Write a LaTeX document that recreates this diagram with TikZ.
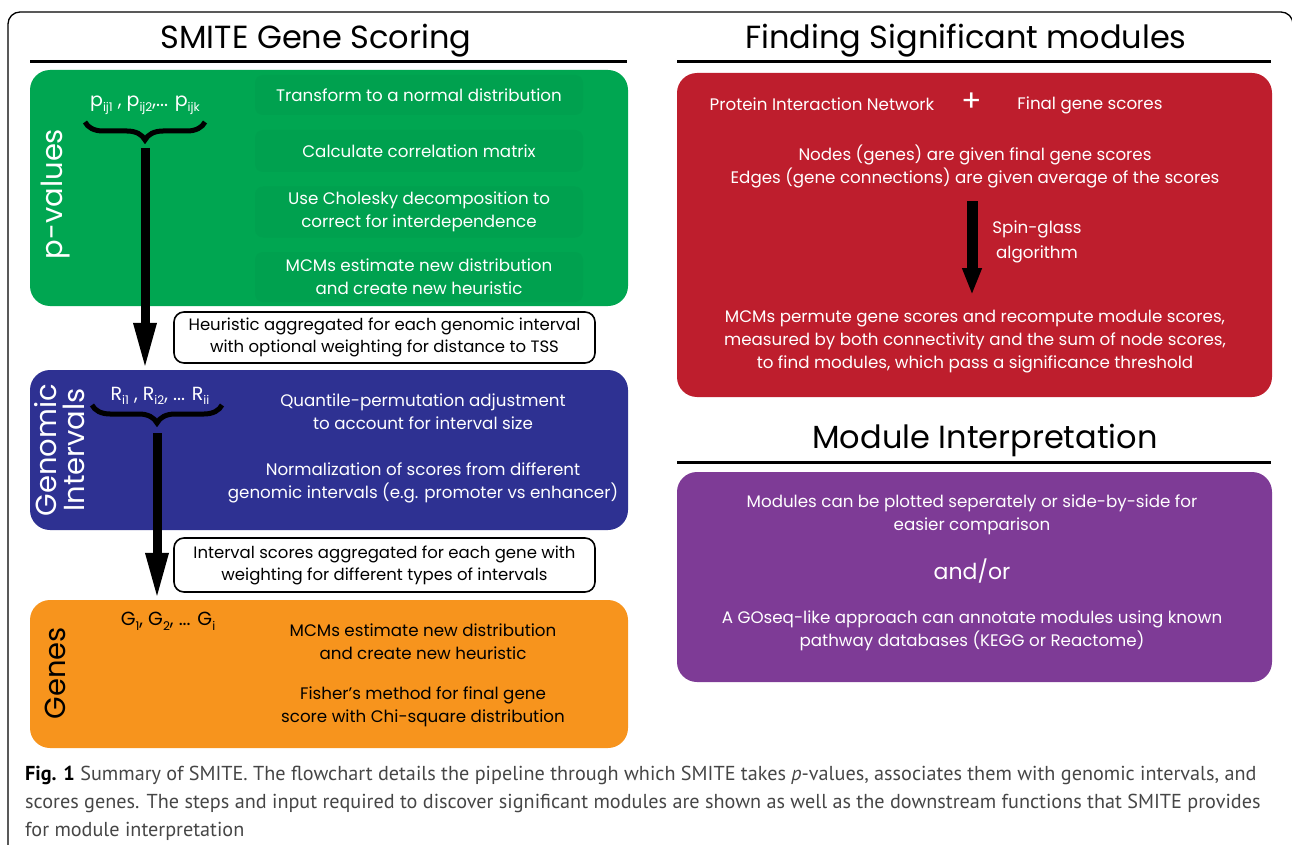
\documentclass[tikz,border=0pt]{standalone}
\usepackage{fontspec}
\setmainfont{Poppins}
\newfontfamily\capfont{PT Sans}
\usetikzlibrary{positioning,arrows.meta,decorations.pathreplacing}
\definecolor{smgreen}{RGB}{0,166,81}
\definecolor{smblue}{RGB}{46,49,146}
\definecolor{smorange}{RGB}{247,148,29}
\definecolor{smred}{RGB}{190,30,45}
\definecolor{smpurple}{RGB}{126,59,150}
\definecolor{capgray}{RGB}{70,70,70}
\newcommand\sbs[1]{\raisebox{-0.45ex}{\fontsize{12}{12}\selectfont #1}}
\tikzset{
  panel/.style={ rounded corners=20pt, inner sep=0pt }
}
\tikzset{
  subbox/.style={ rounded corners=8pt, fill=smgreen!97!black, text=white, align=center,
    minimum width=328pt, inner sep=2pt, font=\fontsize{16.7}{23}\selectfont }
}
\tikzset{
  wtxt/.style={ text=white, align=center, font=\fontsize{16.7}{23}\selectfont }
}
\tikzset{
  btxt/.style={ text=black, align=center, font=\fontsize{16.7}{23}\selectfont }
}
\tikzset{
  stepnote/.style={ draw, line width=1.6pt, rounded corners=10pt, fill=white, align=center,
    minimum width=421pt, inner sep=2pt, font=\fontsize{16.5}{22}\selectfont }
}
\tikzset{
  sidelbl/.style={ rotate=90, align=center, font=\fontsize{29}{28}\selectfont }
}
\tikzset{
  heading/.style={ font=\fontsize{32}{32}\selectfont }
}
\tikzset{
  bigarrow/.style={ line width=9pt, -{Triangle[length=47pt,width=21pt]} }
}
\tikzset{
  curly/.style={ decorate, decoration={brace, mirror, amplitude=18pt}, line width=5pt }
}

\begin{document}
\begin{tikzpicture}[x=1pt, y=-1pt]
  \useasboundingbox (0,0) rectangle (1292,845);
  % outer frame
  \draw[line width=1.3pt, rounded corners=12pt] (8,850) -- (8,12) -- (1293,12) -- (1293,850);

  % ---- SMITE gene scoring
  \node[heading] (lhead) at (316,41) {SMITE Gene Scoring};
  \draw[line width=3pt] (30,62) -- (627,62);

  \node[panel, fill=smgreen, minimum width=598pt, minimum height=236pt] (pval) at (329,188) {};
  \node[panel, fill=smblue, minimum width=598pt, minimum height=160pt] (genint) at (329,450) {};
  \node[panel, fill=smorange, minimum width=598pt, minimum height=148pt] (genes) at (329,674) {};

  \node[sidelbl, text=white] (pvlbl) at (56,194) {p-values};
  \node[sidelbl, text=white] (gilbl) at (60,450) {Genomic\\Intervals};
  \node[sidelbl, text=black] (gnlbl) at (55,673) {Genes};

  \node[subbox, minimum height=40pt] (s1) at (419,95) {Transform to a normal distribution};
  \node[subbox, minimum height=42pt] (s2) at (419,151) {Calculate correlation matrix};
  \node[subbox, minimum height=51pt] (s3) at (419,212) {Use Cholesky decomposition to\\correct for interdependence};
  \node[subbox, minimum height=50pt] (s4) at (419,277) {MCMs estimate new distribution\\and create new heuristic};

  \node[wtxt, font=\fontsize{19}{23}\selectfont] (plist) at (145,105) {p\sbs{ij1} , p\sbs{ij2},... p\sbs{ijk}};
  \coordinate (pbl) at (85,122);
  \coordinate (pbr) at (205,122);
  \coordinate (ptip) at (145,148);
  \draw[curly] (pbl) -- (pbr);
  \draw[bigarrow] (ptip) -- (ptip |- genint.north);

  \node[stepnote, minimum height=51pt] (heur) at (384.5,337.5) {Heuristic aggregated for each genomic interval\\with optional weighting for distance to TSS};

  \node[wtxt] (q1) at (423,412) {Quantile-permutation adjustment\\to account for interval size};
  \node[wtxt] (q2) at (423,483) {Normalization of scores from different\\genomic intervals (e.g. promoter vs enhancer)};
  \node[wtxt, font=\fontsize{19}{23}\selectfont] (rlist) at (160,396) {R\sbs{i1} , R\sbs{i2}, ... R\sbs{ii}};
  \coordinate (rbl) at (92,405);
  \coordinate (rbr) at (222,405);
  \coordinate (rtip) at (157,433);
  \draw[curly] (rbl) -- (rbr);
  \draw[bigarrow] (rtip) -- (rtip |- genes.north);

  \node[stepnote, minimum height=54pt] (ivagg) at (384.5,565) {Interval scores aggregated for each gene with\\weighting for different types of intervals};

  \node[btxt, font=\fontsize{19}{23}\selectfont] (glist) at (168,621) {G\sbs{1}, G\sbs{2}, ... G\sbs{i}};
  \node[btxt] (g1) at (423,642) {MCMs estimate new distribution\\and create new heuristic};
  \node[btxt] (g2) at (423,707) {Fisher’s method for final gene\\score with Chi-square distribution};

  % ---- finding significant modules
  \node[heading] (rhead) at (966,41) {Finding Significant modules};
  \draw[line width=3pt] (677,62) -- (1271,62);
  \node[panel, fill=smred, minimum width=595pt, minimum height=324pt] (sigmod) at (974.5,235) {};

  \node[wtxt] (pin) at (822,104) {Protein Interaction Network};
  \node[wtxt, font=\fontsize{30}{30}\selectfont] (plus) at (972,102) {+};
  \node[wtxt] (fgs) at (1090,105) {Final gene scores};
  \node[wtxt] (nodesdesc) at (975,166) {Nodes (genes) are given final gene scores\\Edges (gene connections) are given average of the scores};
  \node[wtxt, font=\fontsize{16.7}{25}\selectfont] (spin) at (1037,242) {Spin-glass\\algorithm};
  \node[wtxt] (mcmperm) at (975,342) {MCMs permute gene scores and recompute module scores,\\measured by both connectivity and the sum of node scores,\\to find modules, which pass a significance threshold};
  \draw[line width=11pt, -{Triangle[length=27pt,width=18pt]}, shorten <=10pt, shorten >=12pt]
    (nodesdesc.south -| plus) -- (mcmperm.north -| plus);

  % ---- module interpretation
  \node[heading] (mhead) at (985,440) {Module Interpretation};
  \draw[line width=3pt] (677,462) -- (1271,462);
  \node[panel, fill=smpurple, minimum width=595pt, minimum height=210pt] (modint) at (974.5,577) {};
  \node[wtxt] (m1) at (972,515) {Modules can be plotted seperately or side-by-side for\\easier comparison};
  \node[wtxt, font=\fontsize{22}{22}\selectfont] (andor) at (972,571) {and/or};
  \node[wtxt] (m2) at (972,631) {A GOseq-like approach can annotate modules using known\\pathway databases (KEGG or Reactome)};

  % ---- caption
  \begin{scope}[every node/.style={anchor=west, inner sep=0pt, text=capgray, font=\capfont\fontsize{20.2}{24}\selectfont}]
    \node (cap1) at (25,775) {{\bfseries\color{black}Fig. 1} Summary of SMITE. The flowchart details the pipeline through which SMITE takes \textit{p}-values, associates them with genomic intervals, and};
    \node (cap2) at (25,803) {scores genes. The steps and input required to discover significant modules are shown as well as the downstream functions that SMITE provides};
    \node (cap3) at (25,831) {for module interpretation};
  \end{scope}
\end{tikzpicture}
\end{document}
